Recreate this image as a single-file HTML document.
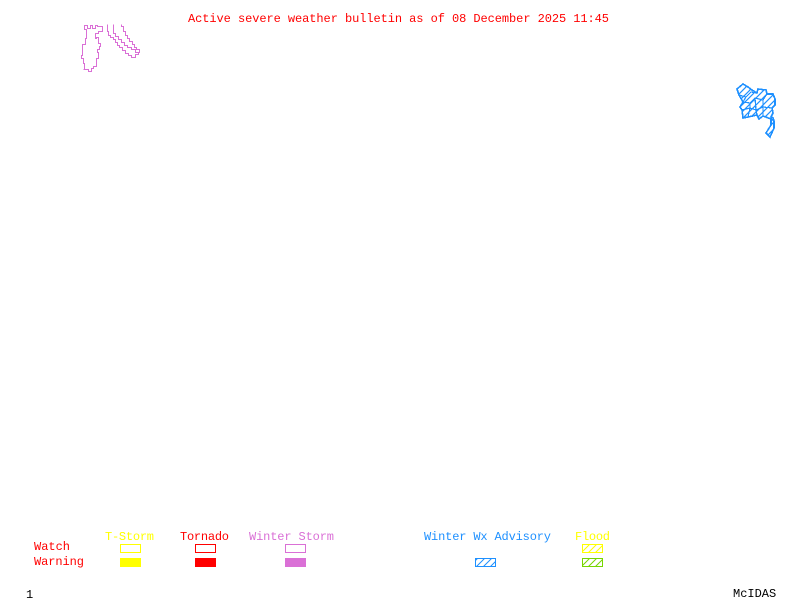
<!DOCTYPE html>
<html>
<head>
<meta charset="utf-8">
<style>
html,body{margin:0;padding:0;background:#fff;width:800px;height:600px;overflow:hidden}
svg{display:block}
text{font-family:"Liberation Mono",monospace;font-size:12px}
</style>
</head>
<body>
<svg xmlns="http://www.w3.org/2000/svg" width="800" height="600" viewBox="0 0 800 600">
<defs>
<pattern id="h1" patternUnits="userSpaceOnUse" width="7" height="7">
<path d="M-1 8L8 -1M-1 1L1 -1M6 8L8 6" stroke="#1e90ff" stroke-width="1.2" fill="none"/>
</pattern>
<pattern id="hb" patternUnits="userSpaceOnUse" width="7" height="7">
<path d="M-1 8L8 -1M-1 1L1 -1M6 8L8 6" stroke="#1e90ff" stroke-width="1" fill="none"/>
</pattern>
<pattern id="hy" patternUnits="userSpaceOnUse" width="7" height="7">
<path d="M-1 8L8 -1M-1 1L1 -1M6 8L8 6" stroke="#ffff00" stroke-width="1" fill="none"/>
</pattern>
<pattern id="hg" patternUnits="userSpaceOnUse" width="7" height="7">
<path d="M-1 8L8 -1M-1 1L1 -1M6 8L8 6" stroke="#76d600" stroke-width="1" fill="none"/>
</pattern>
</defs>

<text x="188" y="22" fill="#ff0000" textLength="421" lengthAdjust="spacing">Active severe weather bulletin as of 08 December 2025 11:45</text>

<g fill="none" stroke="#da70d6" stroke-width="1" shape-rendering="crispEdges">
<path d="M84.5 25.5V29.5H86.5V38.5H85.5V44.5H82.5V55.5H81.5V58.5H83.5V63.5H84.5V69.5H83.5V69.5H88.5V71.5H91.5V68.5H93.5V66.5H96.5V58.5H98.5V52.5H97.5V49.5H99.5V46.5H100.5V43.5H98.5V37.5H96.5V38.5H95.5V33.5H98.5V31.5H102.5V26.5H97.5V25.5H95.5V28.5H92.5V25.5H90.5V28.5H87.5V25.5Z"/>
<path d="M107.5 24.5V31.5H108.5V35.5H110.5V37.5H113.5V39.5H115.5V42.5H117.5V45.5H119.5V47.5H122.5V50.5H125.5V53.5H128.5V55.5H131.5V57.5H135.5V54.5H138.5V52.5H139.5V49.5H136.5V47.5H134.5V44.5H132.5V41.5H129.5V38.5H127.5V35.5H125.5V31.5H123.5V26.5H121.5V24.5"/>
<path d="M113.5 24.5V33.5H115.5V36.5H118.5V39.5H121.5V42.5H124.5V45.5H127.5V47.5H131.5V49.5H135.5V52.5H138.5"/>
</g>

<g shape-rendering="crispEdges">
<polygon points="737,89 743,84 748,87 752,90 757,93 758,89 766,90 767,94 773,94 775,99 775,105 772,108 773,113 771,117 773,118 774,121 774,128 770,137 766,133 771,125 771,119 763,116 759,119 757,115 748,117 743,118 742,110 740,107 743,102 739,95" fill="url(#h1)" stroke="#1e90ff" stroke-width="1.6"/>
<g fill="none" stroke="#1e90ff" stroke-width="1.2">
<polyline points="739,95 746,97 751,92 757,93"/>
<polyline points="743,102 750,103 755,98 763,100 767,94"/>
<polyline points="742,110 750,108 756,110 763,107 772,108"/>
<polyline points="750,103 750,108 748,117"/>
<polyline points="763,100 763,107 763,116"/>
<polyline points="755,98 756,110 757,115"/>
<polyline points="746,97 743,102"/>
<polyline points="771,119 774,121"/>
</g>
</g>

<text x="105" y="540" fill="#ffff00" textLength="49" lengthAdjust="spacing">T-Storm</text>
<text x="180" y="540" fill="#ff0000" textLength="49" lengthAdjust="spacing">Tornado</text>
<text x="249" y="540" fill="#da70d6" textLength="85" lengthAdjust="spacing">Winter Storm</text>
<text x="424" y="540" fill="#1e90ff" textLength="127" lengthAdjust="spacing">Winter Wx Advisory</text>
<text x="575" y="540" fill="#ffff00" textLength="35" lengthAdjust="spacing">Flood</text>
<text x="34" y="550" fill="#ff0000">Watch</text>
<text x="34" y="565" fill="#ff0000" textLength="50" lengthAdjust="spacing">Warning</text>

<g shape-rendering="crispEdges">
<rect x="120.5" y="544.5" width="20" height="8" fill="none" stroke="#ffff00"/>
<rect x="195.5" y="544.5" width="20" height="8" fill="none" stroke="#ff0000"/>
<rect x="285.5" y="544.5" width="20" height="8" fill="none" stroke="#da70d6"/>
<rect x="120" y="558" width="21" height="9" fill="#ffff00"/>
<rect x="195" y="558" width="21" height="9" fill="#ff0000"/>
<rect x="285" y="558" width="21" height="9" fill="#da70d6"/>
<rect x="475.5" y="558.5" width="20" height="8" fill="url(#hb)" stroke="#1e90ff"/>
<rect x="582.5" y="544.5" width="20" height="8" fill="url(#hy)" stroke="#ffff00"/>
<rect x="582.5" y="558.5" width="20" height="8" fill="url(#hg)" stroke="#76d600"/>
</g>

<text x="26" y="598" fill="#000">1</text>
<text x="733" y="597" fill="#000">McIDAS</text>
</svg>
</body>
</html>
